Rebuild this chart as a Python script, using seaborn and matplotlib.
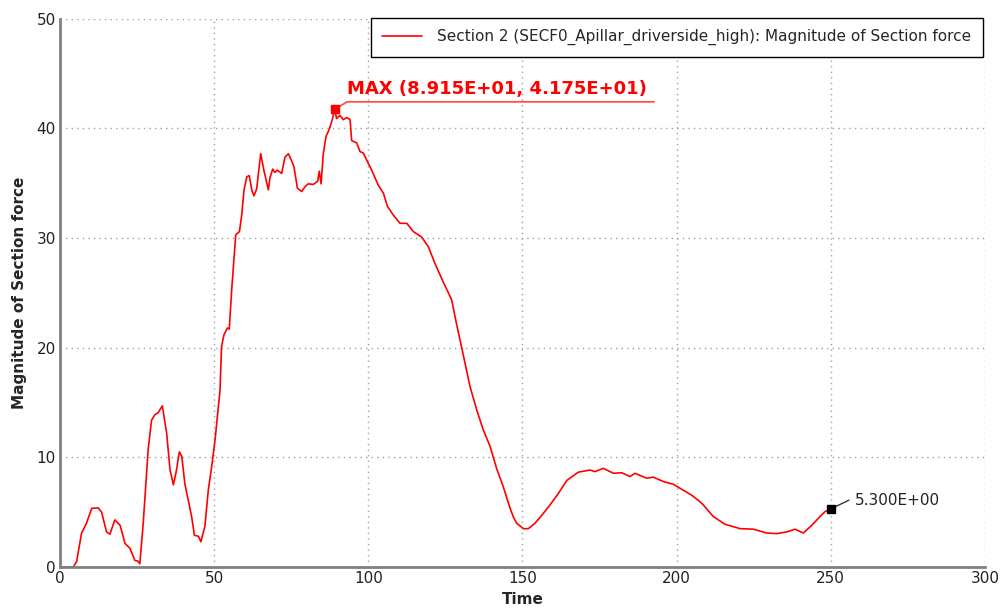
import matplotlib
matplotlib.use('Agg')
import matplotlib.pyplot as plt
from matplotlib.ticker import MultipleLocator
import seaborn as sns
import pandas as pd

# values
time = [0, 4.3, 5.4, 7.0, 8.6, 10.3, 12.4, 13.5, 15.1, 16.2, 17.8, 19.5, 21.1, 22.7,
        24.3, 25.2, 25.9, 27.0, 28.6, 29.7, 30.8, 31.9, 33.2, 34.6, 35.7, 36.8, 37.8,
        38.7, 39.5, 40.5, 41.6, 42.7, 43.6, 44.9, 45.7, 47.0, 48.1, 49.2, 50.3, 51.9,
        52.4, 53.2, 54.3, 54.9, 55.7, 57.0, 58.2, 58.9, 59.7, 60.6, 61.4, 62.2, 62.9,
        63.8, 65.1, 66.2, 67.6, 68.1, 69.0, 69.7, 70.5, 71.9, 73.0, 74.1, 75.2, 75.9,
        77.0, 78.4, 79.5, 80.5, 82.2, 83.6, 84.1, 84.7, 85.4, 86.3, 87.3, 88.1, 89.15,
        89.7, 90.8, 91.9, 93.0, 94.1, 94.6, 96.2, 97.3, 98.4, 99.5, 101.1, 103.2, 104.9,
        106.2, 108.1, 110.3, 112.5, 114.6, 117.3, 119.5, 121.6, 124.3, 127.0, 128.6,
        130.3, 133.0, 135.2, 137.3, 139.5, 141.6, 143.8, 146.0, 147.0, 148.1, 150.3,
        151.9, 154.1, 156.8, 158.9, 161.6, 164.4, 168.1, 171.9, 173.5, 176.2, 179.5,
        182.2, 184.9, 186.5, 190.3, 192.4, 195.7, 198.9, 202.2, 204.9, 207.6, 208.7,
        211.9, 215.7, 220.6, 224.9, 229.2, 232.5, 235.7, 238.4, 241.1, 243.8, 246.5,
        248.1, 250.0]
force = [0, 0, 0.5, 3.1, 4.0, 5.35, 5.4, 5.0, 3.2, 3.0, 4.3, 3.8, 2.15, 1.7,
         0.6, 0.55, 0.3, 4.0, 10.7, 13.4, 13.9, 14.1, 14.7, 12.2, 8.85, 7.5, 8.85,
         10.5, 10.1, 7.6, 6.1, 4.6, 2.9, 2.8, 2.3, 3.7, 7.0, 9.15, 11.6, 16.1,
         20.1, 21.2, 21.8, 21.7, 25.3, 30.3, 30.6, 32.0, 34.4, 35.6, 35.7, 34.4, 33.85,
         34.5, 37.7, 36.1, 34.4, 35.5, 36.3, 36.0, 36.2, 35.9, 37.4, 37.7, 37.0, 36.5,
         34.55, 34.25, 34.7, 34.95, 34.9, 35.2, 36.1, 34.95, 37.7, 39.3, 39.9, 40.6, 41.75,
         40.9, 41.2, 40.8, 41.0, 40.8, 38.9, 38.7, 37.9, 37.75, 37.1, 36.2, 34.85, 34.1,
         32.9, 32.1, 31.35, 31.35, 30.6, 30.1, 29.2, 27.7, 26.0, 24.4, 22.2,
         20.0, 16.45, 14.3, 12.5, 11.0, 9.0, 7.3, 5.35, 4.6, 4.0, 3.5,
         3.5, 4.0, 4.9, 5.65, 6.7, 7.9, 8.65, 8.85, 8.7, 9.0, 8.55,
         8.6, 8.25, 8.55, 8.1, 8.2, 7.8, 7.55, 7.0, 6.55, 5.95, 5.65,
         4.6, 3.9, 3.5, 3.45, 3.1, 3.05, 3.2, 3.45, 3.1, 3.8, 4.6,
         5.05, 5.3]

series_name = 'Section 2 (SECF0_Apillar_driverside_high): Magnitude of Section force'
max_point = (89.15, 41.75)
end_point = (250.0, 5.3)

df = pd.DataFrame({'Time': time, 'Force': force, 'series': series_name})

sns.set_theme(style='white')
plt.rcParams['font.family'] = ['DejaVu Sans']

fig = plt.figure(figsize=(10.03, 6.08), dpi=100)
ax = fig.add_axes([0.0598, 0.0674, 0.9222, 0.9016])

sns.lineplot(data=df, x='Time', y='Force', hue='series', palette=['#ff0000'],
             linewidth=1.2, ax=ax)

ax.set_xlim(0, 300)
ax.set_ylim(0, 50)
ax.xaxis.set_major_locator(MultipleLocator(50))
ax.xaxis.set_minor_locator(MultipleLocator(25))
ax.yaxis.set_major_locator(MultipleLocator(10))
ax.yaxis.set_minor_locator(MultipleLocator(5))
ax.grid(True, which='major', color='#a0a0a0', linestyle=(0, (1, 3)), linewidth=1)
ax.tick_params(which='both', direction='in', color='#808080', labelsize=11,
               labelcolor='#222222', pad=3)
ax.tick_params(which='major', length=4, width=1.2)
ax.tick_params(which='minor', length=3, width=1)
for side in ['top', 'right']:
    ax.spines[side].set_visible(False)
for side in ['left', 'bottom']:
    ax.spines[side].set_color('#808080')
    ax.spines[side].set_linewidth(2)

ax.set_xlabel('Time', fontsize=11, fontweight='bold', labelpad=4)
ax.set_ylabel('Magnitude of Section force', fontsize=11, fontweight='bold', labelpad=7)

leg = ax.legend(loc='upper right', bbox_to_anchor=(0.9975, 1.002), fontsize=11,
                frameon=True, fancybox=False, framealpha=1, edgecolor='black',
                handlelength=2.6, handletextpad=1.0, borderaxespad=0.0,
                borderpad=0.75)
leg.get_frame().set_linewidth(1)

# max marker and label
ax.plot([max_point[0]], [max_point[1]], marker='s', markersize=6, color='#ff0000',
        linestyle='none', zorder=5)
ax.plot([max_point[0], 93.1, 192.7], [max_point[1], 42.43, 42.43], color='#ff5050',
        linewidth=1.3, zorder=4)
ax.text(93.1, 42.75, 'MAX (8.915E+01, 4.175E+01)', color='#ff0000', fontsize=13,
        fontweight='bold', ha='left', va='bottom')

# end marker and label
ax.plot([end_point[0]], [end_point[1]], marker='s', markersize=6, color='black',
        linestyle='none', zorder=5)
ax.plot([end_point[0], 255.9], [end_point[1], 6.1], color='#333333', linewidth=1)
ax.text(257.9, 6.1, '5.300E+00', color='#222222', fontsize=11, ha='left', va='center')

fig.savefig('out.png', dpi=100)
